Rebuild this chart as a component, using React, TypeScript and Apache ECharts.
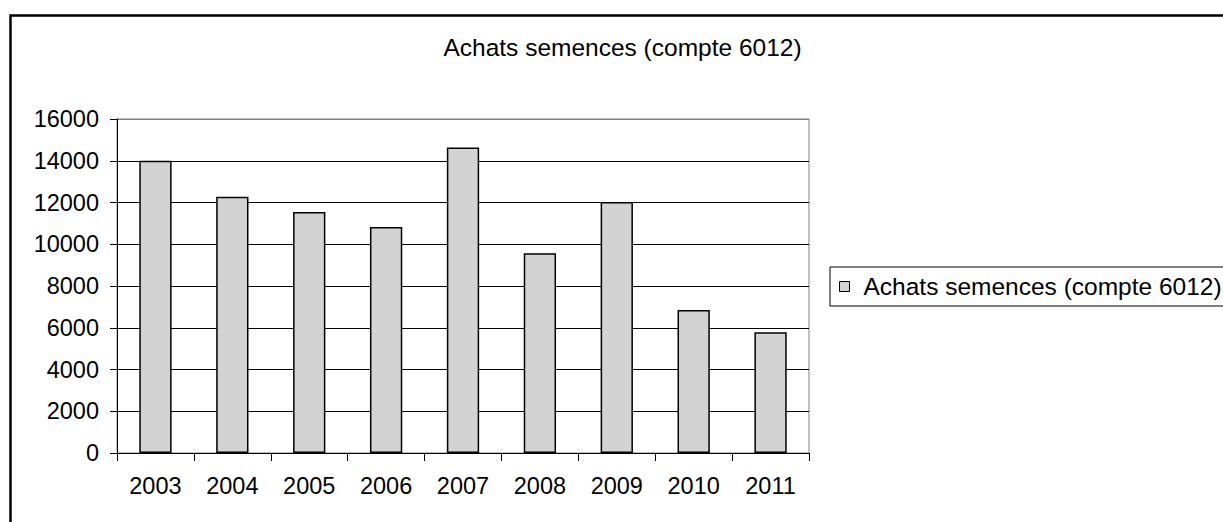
import React, { useEffect, useRef } from "react";
import * as echarts from "echarts";

const categories = ["2003", "2004", "2005", "2006", "2007", "2008", "2009", "2010", "2011"];
const seriesName = "Achats semences (compte 6012)";
const values = [14000, 12280, 11550, 10830, 14630, 9570, 12020, 6850, 5780];
const yMin = 0;
const yMax = 16000;
const yInterval = 2000;

const FONT = "'Liberation Sans', Arial, sans-serif";

export default function App() {
  const ref = useRef<HTMLDivElement>(null);
  useEffect(() => {
    if (!ref.current) return;
    const chart = echarts.init(ref.current, null, { renderer: "svg" });
    const nSplit = (yMax - yMin) / yInterval + 1;
    const splitColors = Array.from({ length: nSplit }, (_, i) => (i === nSplit - 1 ? "#808080" : "#000000"));
    chart.setOption({
      animation: false,
      backgroundColor: "#ffffff",
      textStyle: { fontFamily: FONT, color: "#000" },
      title: {
        text: seriesName,
        left: 622.5,
        top: 35,
        textAlign: "center",
        padding: 0,
        textStyle: { fontFamily: FONT, fontSize: 24.5, fontWeight: "normal", color: "#000" },
      },
      graphic: [
        {
          type: "rect",
          shape: { x: 10.5, y: 15.5, width: 1400, height: 700 },
          style: { fill: "none", stroke: "#000", lineWidth: 2.5 },
          silent: true,
          z: 100,
        },
      ],
      legend: {
        left: 830,
        top: 267,
        orient: "vertical",
        padding: [7, 12, 7, 9],
        borderColor: "#000",
        borderWidth: 1,
        itemWidth: 10,
        itemHeight: 10,
        icon: "rect",
        itemStyle: { color: "#d3d3d3", borderColor: "#000", borderWidth: 1 },
        textStyle: { fontFamily: FONT, fontSize: 24.5, color: "#000", padding: [0, 0, 0, 9] },
        data: [seriesName],
      },
      grid: { left: 117, top: 119, right: 414, bottom: 69, show: true, borderColor: "#808080", borderWidth: 1 },
      xAxis: {
        type: "category",
        data: categories,
        axisLine: { lineStyle: { color: "#000", width: 1 } },
        axisTick: { show: true, length: 8, lineStyle: { color: "#000" } },
        axisLabel: { fontFamily: FONT, fontSize: 23.5, color: "#000", margin: 21 },
        splitLine: { show: false },
      },
      yAxis: {
        type: "value",
        min: yMin,
        max: yMax,
        interval: yInterval,
        axisLine: { show: true, lineStyle: { color: "#000", width: 1 } },
        axisTick: { show: true, length: 7, lineStyle: { color: "#000" } },
        axisLabel: {
          fontFamily: FONT,
          fontSize: 23.5,
          color: "#000",
          margin: 18,
          formatter: (v: number) => String(v),
        },
        splitLine: { show: true, lineStyle: { color: splitColors, width: 1 } },
      },
      series: [
        {
          name: seriesName,
          type: "bar",
          data: values,
          barCategoryGap: "58%",
          itemStyle: { color: "#d3d3d3", borderColor: "#000", borderWidth: 1.5 },
        },
      ],
    });
    return () => chart.dispose();
  }, []);
  return <div ref={ref} style={{ position: "absolute", left: 0, top: 0, width: 1223, height: 522 }} />;
}
